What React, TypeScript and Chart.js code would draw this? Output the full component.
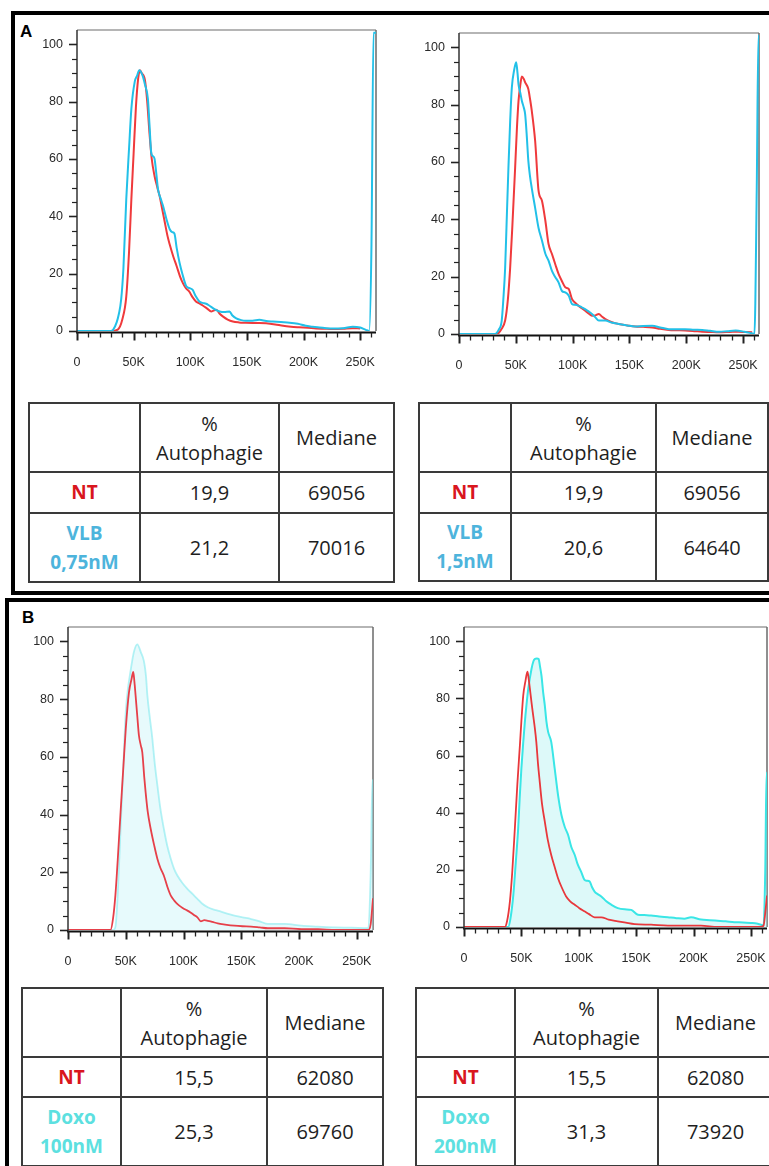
import React, { useEffect, useRef } from 'react';
import { Chart, registerables } from 'chart.js';

Chart.register(...registerables);

// ---------- Histogram data (x in K units, y = % of max) ----------
const AL_CTRL_X = [0, 30, 36, 40, 43.5, 46, 48, 50, 52, 54, 55.5, 57, 60, 62, 64, 66, 68.5, 71, 73, 75, 77, 80, 82, 85, 88, 91, 93.5, 96, 99, 102, 105, 108, 111, 115, 118.5, 121, 123, 126, 129, 133, 137.6, 143, 149, 158, 167, 175, 182, 189, 196, 204, 211, 218, 226, 235, 243, 250];
const AL_CTRL_Y = [0, 0, 0.5, 4, 12, 28, 46, 62, 78, 88, 91, 90, 87.5, 80, 69, 60, 54, 50, 47, 43, 39, 33, 30, 26, 22.6, 19, 16.7, 15, 13.8, 11.8, 10.3, 9.6, 8.9, 7.8, 6.8, 7.2, 7.4, 6, 5, 4, 3.3, 3, 2.9, 2.8, 2.7, 2.3, 1.8, 1.5, 1.3, 1.1, 0.9, 0.8, 0.7, 0.8, 1, 0.9];
const AL_DRUG_X = [0, 30, 32, 35, 37, 39, 41, 43.5, 46, 48, 51, 53, 55, 58, 60, 62.6, 64, 65.6, 67, 68.5, 70, 71.5, 74, 76, 79, 82, 84, 86, 88, 90.6, 93, 96.5, 99, 102, 105, 108, 111, 114, 117, 120, 123, 126, 130, 134.7, 137, 140.6, 145, 149, 155, 161, 167, 173, 180, 187.6, 195, 202, 208, 214, 220, 226, 235, 243.5, 250, 255, 258, 260, 261.8, 264];
const AL_DRUG_Y = [0, 0, 0.5, 3, 6, 11, 22, 46, 64, 77.5, 87, 89, 91, 89, 86, 81, 72, 62, 61, 60, 55, 49.5, 46, 43.6, 39, 35.4, 34.5, 34, 29, 23.7, 20, 15.6, 15, 14.4, 12, 10.3, 9.8, 9.5, 8.8, 8, 7.3, 6.8, 6.6, 6.8, 5.5, 4.4, 3.8, 3.6, 3.6, 3.9, 3.5, 3.3, 3.1, 2.9, 2.5, 1.8, 1.5, 1.2, 1, 0.9, 1, 1.5, 1.2, 0.4, 0, 30, 104, 104];

const AR_CTRL_X = [0, 33, 34.7, 37, 40.6, 43, 45, 47, 49.4, 51, 52.4, 54, 55.3, 57, 58.2, 61, 62.5, 64, 67, 70, 73, 76, 78.8, 81.8, 85, 87.6, 90.5, 93.5, 96.5, 99.4, 102, 105, 108, 111, 114, 117, 120, 123, 126, 128.8, 134, 140.6, 148, 155, 162, 170, 177, 184.7, 192, 199, 207, 214, 221, 229, 238, 246, 252, 258];
const AR_CTRL_Y = [0, 0, 0.3, 1.5, 4.7, 12, 23, 38, 58, 72, 81.4, 87, 89.8, 89, 87.8, 85.5, 82, 78, 67.4, 50, 46.5, 39.5, 31.4, 27.9, 24, 21, 18.5, 16.3, 15.7, 12.2, 11, 9.9, 9, 8.1, 7.2, 6.4, 6.5, 7, 6, 5.2, 4.2, 3.5, 3, 2.6, 2.5, 2.3, 1.8, 1.4, 1.3, 1.2, 1, 0.8, 0.7, 0.6, 0.7, 0.8, 0.7, 0.6];
const AR_DRUG_X = [0, 31, 33, 35, 37.6, 39, 40.6, 42, 43.5, 45, 46.5, 48.5, 50.3, 51.5, 52.4, 54, 55.3, 57, 58.2, 59.5, 61, 62.5, 64, 67, 70, 73, 76, 78.8, 81.8, 84.5, 87.6, 90.6, 93.5, 96.5, 99.4, 102, 105, 108, 111, 114, 117, 120, 123, 126, 128.8, 134, 140.6, 148, 155, 162, 170, 177, 184.7, 192, 199, 207, 214, 221, 229, 236, 243.5, 251, 256, 258, 260, 262, 263.5, 264];
const AR_DRUG_Y = [0, 0, 0.3, 1.5, 4.7, 12, 23, 40, 58, 74, 86, 92, 94.8, 91, 87, 84, 81.4, 79, 76.7, 70, 60.5, 55, 51, 44, 37, 32.6, 28, 25.6, 22, 20, 18, 15, 14.5, 13.4, 10.5, 10.2, 9.9, 9.3, 8.7, 7.9, 7, 5.8, 4.7, 4.7, 4.7, 4, 3.5, 3, 2.6, 2.8, 2.9, 2.3, 1.7, 1.7, 1.7, 1.5, 1.4, 1.1, 0.8, 1, 1.2, 0.8, 0.4, 0.2, 0, 50, 104, 104];

const BL_CTRL_X = [0, 36.8, 39, 41, 43, 45.5, 48, 50, 52.8, 55, 56.5, 57.5, 58.5, 60, 61.4, 63, 64.3, 66, 67.2, 69, 71.6, 74.5, 77.4, 80, 83, 86, 89, 92, 94.8, 97.5, 100.6, 103, 106, 109, 112, 115, 118, 121, 125, 129.6, 136, 144, 151, 158.5, 166, 173, 187.5, 202, 216.5, 231, 260, 262, 264];
const BL_CTRL_Y = [0, 0, 4, 11.9, 24, 40.8, 57, 69.7, 82.4, 87, 89.4, 86, 81.3, 74, 67.4, 64, 61.6, 53, 47.7, 41, 35, 29.5, 24.6, 21.5, 18.8, 15, 11.9, 10.2, 9, 8.1, 7.3, 6.8, 6.1, 5.2, 4.4, 3, 3.4, 3.2, 2.8, 2.3, 1.9, 1.5, 1.3, 1.2, 0.9, 0.6, 0.6, 0.3, 0.3, 0, 0, 2, 11];
const BL_DRUG_X = [0, 39, 41, 43, 45.5, 48, 50, 52, 54, 57, 60, 63, 65.8, 67.5, 68.7, 71, 73, 75, 77.4, 80, 83, 86, 89, 92, 94.8, 99, 103.5, 108, 112, 116, 121, 125, 129.6, 137, 144, 151, 158.5, 166, 173, 187.5, 202, 216, 231, 245, 260, 262, 263.5, 264];
const BL_DRUG_Y = [0, 0, 1, 12, 35, 58, 75.5, 84, 89.4, 96.3, 99, 96.3, 93, 88, 81.3, 73, 66.3, 58, 50, 42, 35, 29, 24.6, 21, 18.8, 16.3, 14.2, 12.4, 10.8, 9.2, 7.9, 7.2, 6.7, 5.8, 5, 4.4, 3.8, 3, 2.1, 2.1, 1.5, 1.2, 0.9, 0.8, 0.6, 20, 52, 52];

const BR_CTRL_X = [0, 35.6, 37.5, 40, 42, 44.3, 46.5, 48.7, 50, 51.6, 53.5, 55.3, 56.3, 57.4, 59, 60.3, 61.6, 63, 64.5, 66, 68, 70.4, 73, 76, 79, 82, 85, 89, 92.5, 96.5, 100.5, 105, 109, 113.8, 119.6, 126, 134, 141, 148.6, 163, 177.6, 206.5, 221, 258, 261, 262.5, 264];
const BR_CTRL_Y = [0, 0, 2, 9, 19, 34.5, 50, 63.6, 72, 81, 86, 89.4, 87, 83.4, 78, 74, 70, 64.8, 57, 50.8, 43, 36.9, 30.5, 25.2, 21, 17, 14, 10.7, 9, 7.8, 6.6, 5.5, 4.5, 3.4, 3.4, 2.6, 2, 1.5, 1, 0.8, 0.5, 0.5, 0, 0, 0.5, 5, 11];
const BR_DRUG_X = [0, 38.5, 40.5, 43, 45, 47.2, 48.5, 50, 51.5, 53, 54.5, 56, 58.8, 60.5, 61.7, 63.5, 65, 66.3, 67.5, 69, 70.4, 71.8, 73.3, 76, 79, 82, 84.9, 87.8, 90.7, 93.5, 96.5, 99, 102, 105, 107, 109.5, 111.5, 113.8, 116.5, 119.6, 124, 128.3, 134, 140, 145.7, 151.5, 157, 163, 170, 177.6, 185, 192, 197.8, 206.5, 214, 221, 228, 235.5, 243, 250, 255, 258.7, 261, 262.5, 263.6, 264];
const BR_DRUG_Y = [0, 0, 3, 11.3, 22, 34.5, 45, 55.5, 64, 71.7, 78, 83.4, 90.3, 93, 93.8, 94, 93.8, 91, 88, 82, 77.6, 72, 68.3, 64.8, 55.5, 46, 39.2, 35, 32.2, 28, 25.2, 22, 19.4, 16.5, 16.2, 15.9, 14, 12.4, 11.5, 10.7, 9, 7.8, 6.6, 6.2, 6, 4.3, 4.2, 4, 3.7, 3.4, 3.1, 2.9, 3.4, 2.6, 2.4, 2.2, 2, 1.7, 1.6, 1.4, 1.2, 0.8, 0.6, 20, 54, 54];

// ---------- Axis ticks ----------
const X_MAX = 264;
const Y_MAX = 105;
const X_MAJOR_STEP = 50;
const X_MINOR_STEP = 10;
const Y_MAJOR_STEP = 20;
const Y_MINOR_STEP = 5;

// ---------- Tables ----------
const TABLE_HEADER = ['', '%\nAutophagie', 'Mediane'];
const LABELS_A1 = ['NT', 'VLB\n0,75nM'];
const AUTO_A1 = ['19,9', '21,2'];
const MED_A1 = ['69056', '70016'];
const LABELS_A2 = ['NT', 'VLB\n1,5nM'];
const AUTO_A2 = ['19,9', '20,6'];
const MED_A2 = ['69056', '64640'];
const LABELS_B1 = ['NT', 'Doxo\n100nM'];
const AUTO_B1 = ['15,5', '25,3'];
const MED_B1 = ['62080', '69760'];
const LABELS_B2 = ['NT', 'Doxo\n200nM'];
const AUTO_B2 = ['15,5', '31,3'];
const MED_B2 = ['62080', '73920'];

const RED = '#d9161e';
const VLB_BLUE = '#4db4dc';
const DOXO_CYAN = '#5ce0e0';

const flowAxes = {
  id: 'flowAxes',
  beforeDatasetsDraw(chart: any) {
    const { ctx, chartArea: a } = chart;
    ctx.save();
    ctx.lineWidth = 1.5;
    ctx.strokeStyle = '#9c9c9c';
    ctx.beginPath();
    ctx.moveTo(a.left, a.top);
    ctx.lineTo(a.right, a.top);
    ctx.stroke();
    ctx.strokeStyle = '#6a6a6a';
    ctx.beginPath();
    ctx.moveTo(a.right, a.top);
    ctx.lineTo(a.right, a.bottom);
    ctx.stroke();
    // x axis line, just under the histogram baselines
    ctx.strokeStyle = '#111';
    ctx.lineWidth = 2;
    ctx.beginPath();
    ctx.moveTo(a.left - 1, a.bottom + 1.5);
    ctx.lineTo(a.right, a.bottom + 1.5);
    ctx.stroke();
    ctx.restore();
  },
  afterDatasetsDraw(chart: any) {
    const { ctx, chartArea: a, scales } = chart;
    const xs = scales.x;
    const ys = scales.y;
    ctx.save();
    ctx.strokeStyle = '#333';
    ctx.lineWidth = 1.5;
    ctx.beginPath();
    ctx.moveTo(a.left, a.top);
    ctx.lineTo(a.left, a.bottom + 1.5);
    ctx.stroke();
    ctx.strokeStyle = '#222';
    for (let v = 0; v <= 100; v += Y_MINOR_STEP) {
      const py = Math.round(ys.getPixelForValue(v)) + 0.5;
      const major = v % Y_MAJOR_STEP === 0;
      ctx.lineWidth = major ? 1.6 : 1.2;
      ctx.beginPath();
      ctx.moveTo(a.left - (major ? 8 : 5), py);
      ctx.lineTo(a.left, py);
      ctx.stroke();
    }
    for (let v = 0; v <= 260; v += X_MINOR_STEP) {
      const px = Math.round(xs.getPixelForValue(v)) + 0.5;
      const major = v % X_MAJOR_STEP === 0;
      ctx.lineWidth = major ? 2 : 1.3;
      ctx.beginPath();
      ctx.moveTo(px, a.bottom + 1.5);
      ctx.lineTo(px, a.bottom + 1.5 + (major ? 8 : 5));
      ctx.stroke();
    }
    ctx.restore();
  },
};

type Series = {
  xs: number[];
  ys: number[];
  color: string;
  width?: number;
  fill?: string;
};

// canvas margins around the plot box (top/right large enough to absorb tick-label padding)
const PL = 50;
const PT = 26;
const PR = 26;
const PB = 44;

function Histo({ l, t, r, b, series }: { l: number; t: number; r: number; b: number; series: Series[] }) {
  const ref = useRef<HTMLCanvasElement>(null);
  const w = r - l + PL + PR;
  const h = b - t + PT + PB;
  useEffect(() => {
    const tickFont = { family: '"Liberation Sans", Arial, sans-serif', size: 12.5 };
    const chart = new Chart(ref.current!, {
      type: 'line',
      data: {
        datasets: series.map((s) => ({
          data: s.xs.map((x, i) => ({ x, y: s.ys[i] })),
          borderColor: s.color,
          borderWidth: s.width ?? 2,
          pointRadius: 0,
          cubicInterpolationMode: 'monotone' as const,
          fill: s.fill ? 'origin' : false,
          backgroundColor: s.fill ?? 'transparent',
        })),
      },
      options: {
        responsive: false,
        animation: false,
        devicePixelRatio: 1,
        layout: { padding: { left: 0, top: PT, right: PR, bottom: 0 } },
        plugins: { legend: { display: false }, tooltip: { enabled: false } },
        scales: {
          x: {
            type: 'linear',
            min: 0,
            max: X_MAX,
            grid: { display: false },
            border: { display: false },
            ticks: {
              stepSize: X_MAJOR_STEP,
              includeBounds: false,
              autoSkip: false,
              maxRotation: 0,
              minRotation: 0,
              padding: 16,
              color: '#2a2a2a',
              font: tickFont,
              callback: (v: any) => (Number(v) === 0 ? '0' : `${v}K`),
            },
            afterFit: (s: any) => {
              s.height = PB;
            },
          },
          y: {
            type: 'linear',
            min: 0,
            max: Y_MAX,
            grid: { display: false },
            border: { display: false },
            ticks: {
              stepSize: Y_MAJOR_STEP,
              includeBounds: false,
              padding: 6,
              color: '#2a2a2a',
              font: tickFont,
              callback: (v: any) => String(v),
            },
            afterFit: (s: any) => {
              s.width = PL;
            },
          },
        },
      },
      plugins: [flowAxes],
    });
    return () => chart.destroy();
  }, []);
  return (
    <canvas
      ref={ref}
      width={w}
      height={h}
      style={{ position: 'absolute', left: l - PL, top: t - PT, width: w, height: h }}
    />
  );
}

function DataTable({
  left,
  top,
  cols,
  rows,
  labels,
  labelColor,
  auto,
  med,
}: {
  left: number;
  top: number;
  cols: number[];
  rows: number[];
  labels: string[];
  labelColor: string;
  auto: string[];
  med: string[];
}) {
  const bw = 2;
  const cells: any[] = [];
  const content: string[][] = [
    TABLE_HEADER,
    [labels[0], auto[0], med[0]],
    [labels[1], auto[1], med[1]],
  ];
  let y = top;
  rows.forEach((rh, ri) => {
    let x = left;
    cols.forEach((cw, ci) => {
      const isLabel = ci === 0 && ri > 0;
      const color = isLabel ? (ri === 1 ? RED : labelColor) : '#1e1e1e';
      cells.push(
        <div
          key={`${ri}-${ci}`}
          style={{
            position: 'absolute',
            left: x,
            top: y,
            width: cw + bw,
            height: rh + bw,
            boxSizing: 'border-box',
            border: `${bw}px solid #3a3a3a`,
            display: 'flex',
            alignItems: 'center',
            justifyContent: 'center',
            textAlign: 'center',
            whiteSpace: 'pre-line',
            fontFamily: '"Open Sans", sans-serif',
            fontSize: isLabel ? 19 : 20,
            fontWeight: isLabel ? 700 : 400,
            lineHeight: '29px',
            color,
          }}
        >
          {content[ri][ci]}
        </div>
      );
      x += cw;
    });
    y += rh;
  });
  return <>{cells}</>;
}

export default function App() {
  return (
    <div
      style={{
        position: 'absolute',
        left: 0,
        top: 0,
        width: 769,
        height: 1166,
        overflow: 'hidden',
        background: '#fff',
      }}
    >
      <div
        style={{
          position: 'absolute',
          left: 11,
          top: 11,
          width: 820,
          height: 584,
          boxSizing: 'border-box',
          border: '4px solid #000',
        }}
      />
      <div
        style={{
          position: 'absolute',
          left: 5,
          top: 598,
          width: 820,
          height: 700,
          boxSizing: 'border-box',
          border: '4px solid #000',
        }}
      />
      <div
        style={{
          position: 'absolute',
          left: 20,
          top: 22,
          fontFamily: '"Liberation Sans", Arial, sans-serif',
          fontWeight: 700,
          fontSize: 17,
          lineHeight: '20px',
        }}
      >
        A
      </div>
      <div
        style={{
          position: 'absolute',
          left: 22,
          top: 608,
          fontFamily: '"Liberation Sans", Arial, sans-serif',
          fontWeight: 700,
          fontSize: 17,
          lineHeight: '20px',
        }}
      >
        B
      </div>

      <Histo
        l={77}
        t={30}
        r={376}
        b={331}
        series={[
          { xs: AL_DRUG_X, ys: AL_DRUG_Y, color: '#22c0e8' },
          { xs: AL_CTRL_X, ys: AL_CTRL_Y, color: '#ef3a3c' },
        ]}
      />
      <Histo
        l={459}
        t={33}
        r={759}
        b={334}
        series={[
          { xs: AR_DRUG_X, ys: AR_DRUG_Y, color: '#22c0e8' },
          { xs: AR_CTRL_X, ys: AR_CTRL_Y, color: '#ef3a3c' },
        ]}
      />
      <Histo
        l={68}
        t={627}
        r={373}
        b={930}
        series={[
          { xs: BL_CTRL_X, ys: BL_CTRL_Y, color: '#e6404a', width: 1.8 },
          { xs: BL_DRUG_X, ys: BL_DRUG_Y, color: 'rgba(120,232,236,0.55)', width: 1.8, fill: 'rgba(185,242,246,0.35)' },
        ]}
      />
      <Histo
        l={464}
        t={627}
        r={767}
        b={927}
        series={[
          { xs: BR_CTRL_X, ys: BR_CTRL_Y, color: '#e8383c', width: 1.8 },
          { xs: BR_DRUG_X, ys: BR_DRUG_Y, color: '#3ae6e6', width: 2, fill: 'rgba(170,240,240,0.4)' },
        ]}
      />

      <DataTable left={28} top={402} cols={[111, 139, 115]} rows={[69, 41, 69]} labels={LABELS_A1} labelColor={VLB_BLUE} auto={AUTO_A1} med={MED_A1} />
      <DataTable left={418} top={402} cols={[92, 145, 112]} rows={[69, 41, 68]} labels={LABELS_A2} labelColor={VLB_BLUE} auto={AUTO_A2} med={MED_A2} />
      <DataTable left={21} top={987} cols={[99, 146, 116]} rows={[69, 40, 69]} labels={LABELS_B1} labelColor={DOXO_CYAN} auto={AUTO_B1} med={MED_B1} />
      <DataTable left={415} top={987} cols={[99, 143, 115]} rows={[69, 40, 69]} labels={LABELS_B2} labelColor={DOXO_CYAN} auto={AUTO_B2} med={MED_B2} />
    </div>
  );
}
